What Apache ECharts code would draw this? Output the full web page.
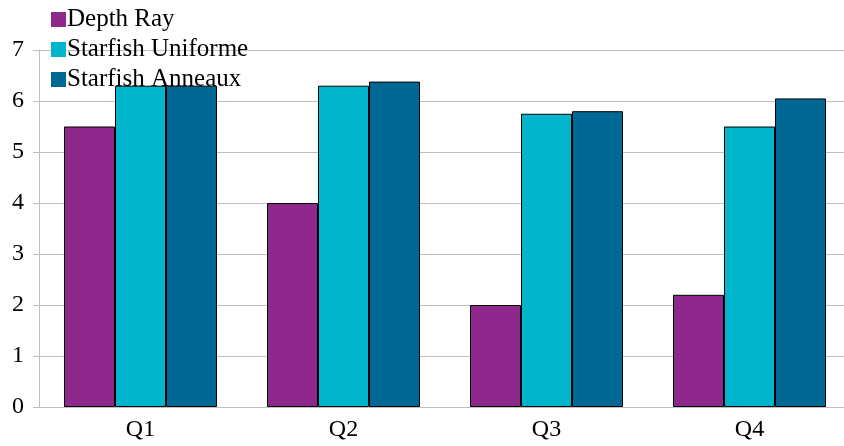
<!DOCTYPE html>
<html><head><meta charset="utf-8">
<script src="https://cdn.jsdelivr.net/npm/echarts@6/dist/echarts.min.js"></script>
<style>html,body{margin:0;padding:0;background:#fff;overflow:hidden}#c{width:870px;height:446px}</style>
</head><body><div id="c"></div>
<script>
var categories = ['Q1', 'Q2', 'Q3', 'Q4'];
var depthRay = [5.5, 4.0, 2.0, 2.2];
var starfishUniforme = [6.3, 6.3, 5.75, 5.5];
var starfishAnneaux = [6.3, 6.38, 5.8, 6.05];
var seriesNames = ['Depth Ray', 'Starfish Uniforme', 'Starfish Anneaux'];
var colors = ['#8f288c', '#00b5cc', '#006894'];
var FONT = 'Liberation Serif';
var chart = echarts.init(document.getElementById('c'), null, {renderer: 'canvas'});
function mk(i, data) {
  return {
    name: seriesNames[i], type: 'bar', data: data,
    barWidth: 51, barGap: '0%',
    itemStyle: {color: colors[i], borderColor: '#000', borderWidth: 1},
    emphasis: {disabled: true}
  };
}
chart.setOption({
  animation: false,
  color: colors,
  textStyle: {fontFamily: FONT},
  grid: {left: 39, top: 50, bottom: 39, width: 812, containLabel: false},
  legend: {
    orient: 'vertical', left: 51, top: 7, padding: 0, itemWidth: 15, itemHeight: 15, itemGap: 5,
    icon: 'rect',
    itemStyle: {borderWidth: 0},
    textStyle: {fontFamily: FONT, fontSize: 25, color: '#000', lineHeight: 24, padding: [0,0,0,-4]},
    data: seriesNames
  },
  xAxis: {
    type: 'category', data: categories,
    axisLine: {show: false}, axisTick: {show: false},
    axisLabel: {fontFamily: FONT, fontSize: 24, color: '#000', margin: 11}
  },
  yAxis: {
    type: 'value', min: 0, max: 7, interval: 1,
    axisLine: {show: true, lineStyle: {color: '#bfbfbf', width: 1}},
    axisTick: {show: true, length: 6, lineStyle: {color: '#bfbfbf'}},
    splitLine: {show: true, lineStyle: {color: '#bfbfbf', width: 1}},
    axisLabel: {fontFamily: FONT, fontSize: 24, color: '#000', margin: 15}
  },
  series: [mk(0, depthRay), mk(1, starfishUniforme), mk(2, starfishAnneaux)]
});
</script></body></html>
